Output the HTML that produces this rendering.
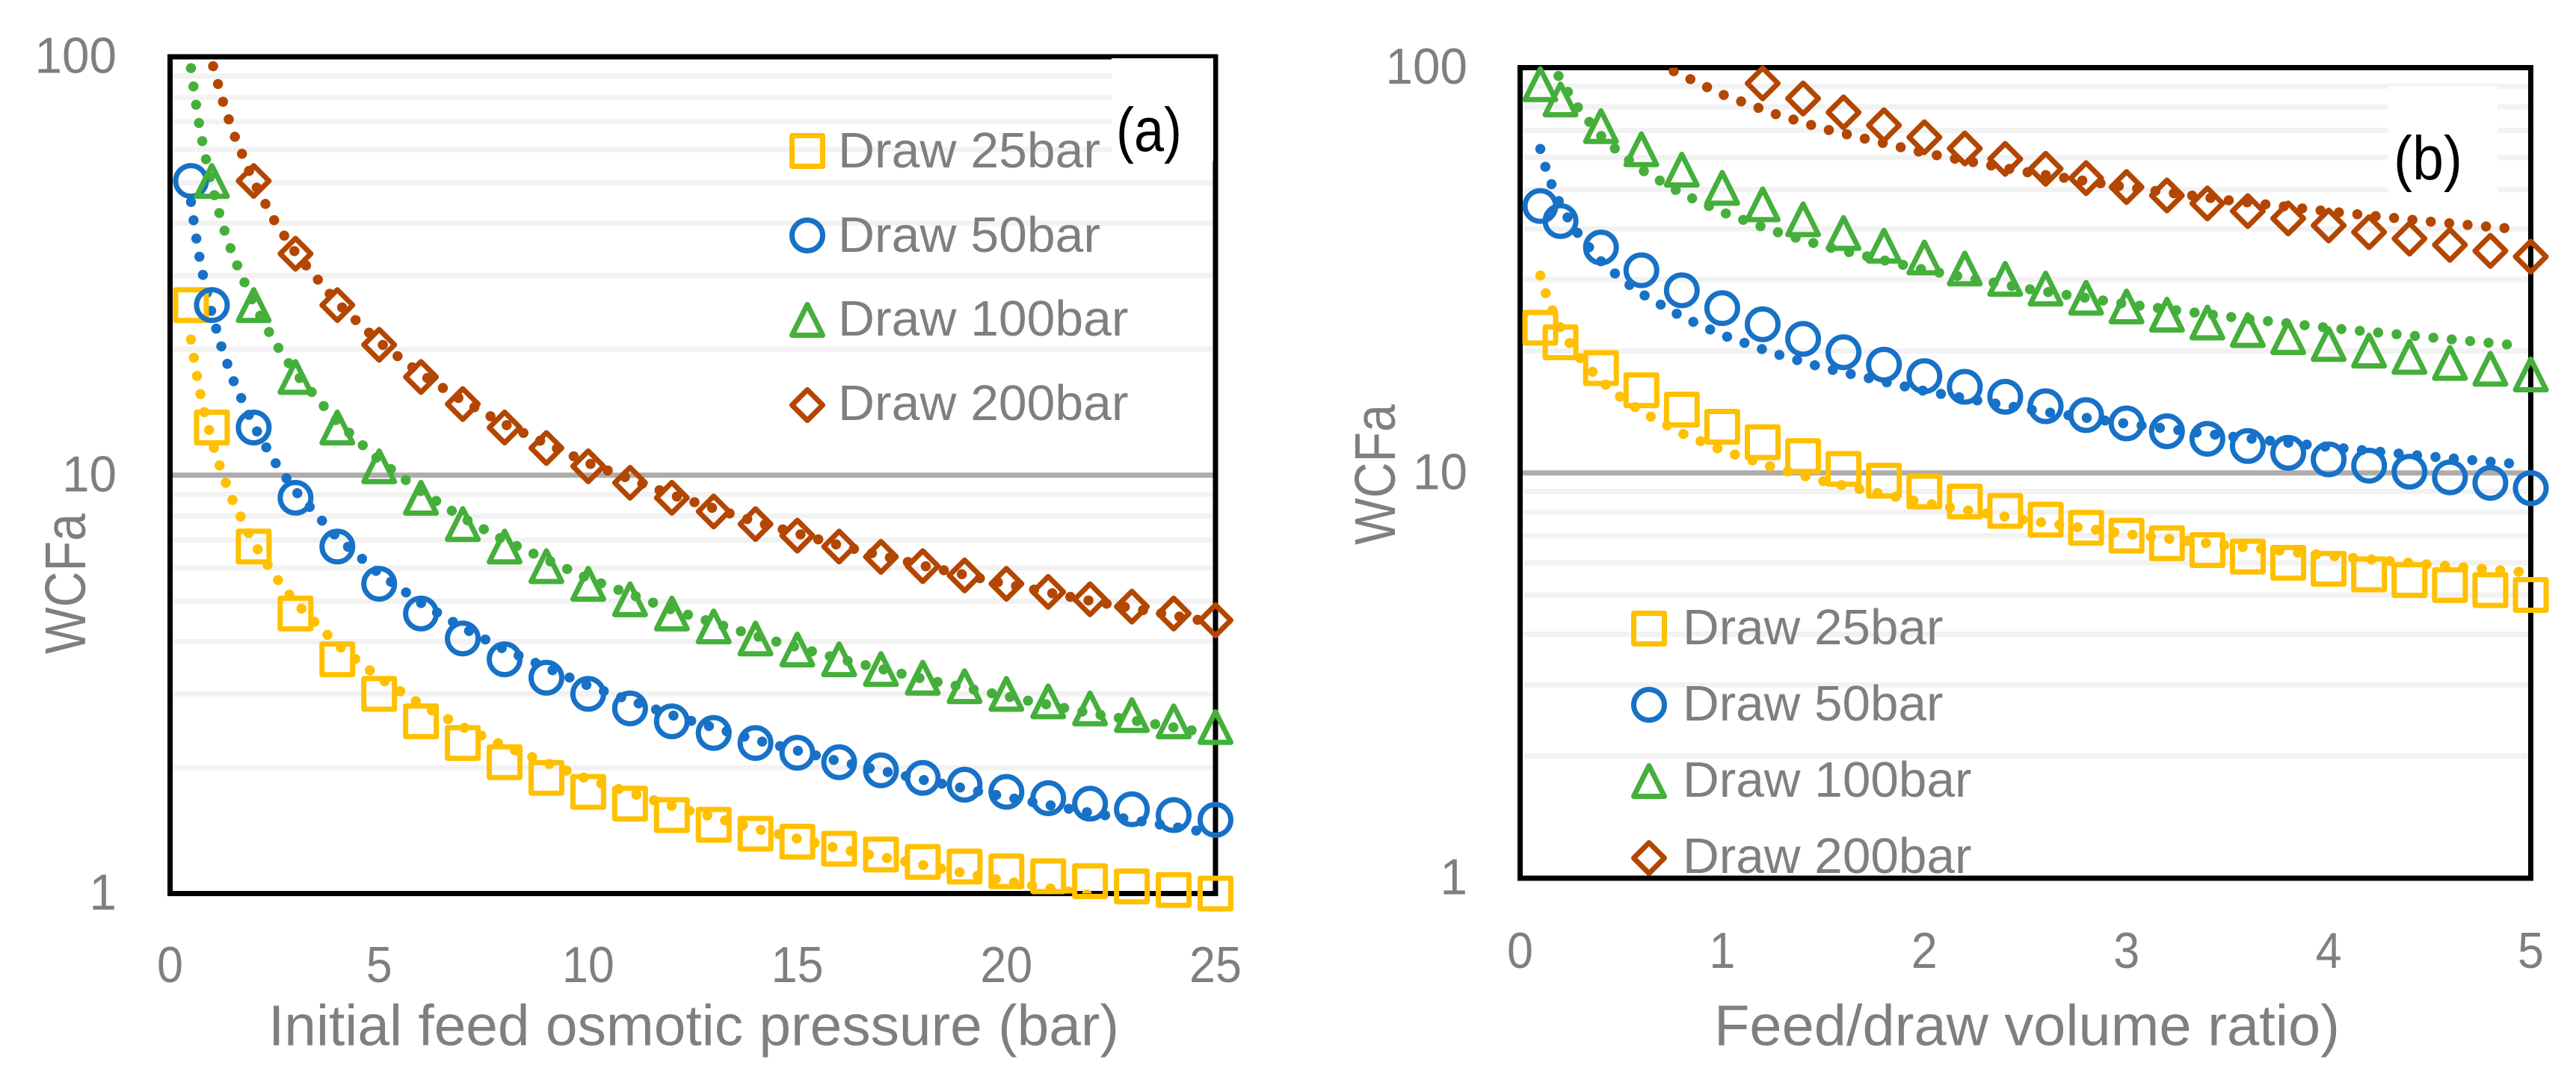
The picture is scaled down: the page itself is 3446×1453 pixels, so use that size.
<!DOCTYPE html>
<html lang="en">
<head>
<meta charset="utf-8">
<title>WCFa charts</title>
<style>
html,body{margin:0;padding:0;background:#fff;}
svg{display:block;}
text{font-family:"Liberation Sans",Arial,sans-serif;fill:#7f7f7f;}
.tick{font-size:68px;}
.leg{font-size:67px;}
.xt{font-size:77px;}
.yt{font-size:77px;}
.tag{font-size:83px;fill:#000;}
</style>
</head>
<body>
<svg id="fig" xmlns="http://www.w3.org/2000/svg" width="3446" height="1453" viewBox="0 0 3446 1453">
  <defs>
    <clipPath id="clipA"><rect x="227.5" y="76" width="1398.5" height="1119.5"/></clipPath>
    <clipPath id="clipB"><rect x="2033.5" y="90.5" width="1352" height="1084.5"/></clipPath>
  </defs>
  <rect x="0" y="0" width="3446" height="1453" fill="#fff"/>

  <g id="gridA"></g>
  <g id="gridB"></g>

  <rect x="227.5" y="76" width="1398.5" height="1119.5" fill="none" stroke="#000" stroke-width="7"/>
  <rect x="2033.5" y="90.5" width="1352" height="1084.5" fill="none" stroke="#000" stroke-width="7"/>

  <rect x="1487" y="78" width="136" height="137" fill="#fff"/>
  <rect x="3195" y="115" width="146" height="144" fill="#fff"/>

  <g id="labelsA"></g>
  <g id="labelsB"></g>

  <text class="xt" x="359" y="1398.5" textLength="1138" lengthAdjust="spacingAndGlyphs">Initial feed osmotic pressure (bar)</text>
  <text class="xt" x="2293" y="1398.5" textLength="837" lengthAdjust="spacingAndGlyphs">Feed/draw volume ratio)</text>
  <text class="yt" transform="translate(114 875) rotate(-90)" textLength="188" lengthAdjust="spacingAndGlyphs">WCFa</text>
  <text class="yt" transform="translate(1866 729) rotate(-90)" textLength="188" lengthAdjust="spacingAndGlyphs">WCFa</text>

  <g id="legendA">
    <g>
      <path transform="translate(1080 202)" d="M-20.5 -20.5H20.5V20.5H-20.5Z" fill="none" stroke="#ffc000" stroke-width="7" stroke-linejoin="round"/>
      <text class="leg" x="1121" y="224" textLength="351" lengthAdjust="spacingAndGlyphs">Draw 25bar</text>
    </g>
    <g>
      <path transform="translate(1080 315)" d="M-20.5 0A20.5 20.5 0 1 1 20.5 0A20.5 20.5 0 1 1 -20.5 0Z" fill="none" stroke="#1771c7" stroke-width="7"/>
      <text class="leg" x="1121" y="337" textLength="351" lengthAdjust="spacingAndGlyphs">Draw 50bar</text>
    </g>
    <g>
      <path transform="translate(1080 428)" d="M0 -20.5L20.5 20.5H-20.5Z" fill="none" stroke="#45af3b" stroke-width="7" stroke-linejoin="round"/>
      <text class="leg" x="1121" y="449" textLength="388.5" lengthAdjust="spacingAndGlyphs">Draw 100bar</text>
    </g>
    <g>
      <path transform="translate(1080 542)" d="M0 -20.5L20.5 0L0 20.5L-20.5 0Z" fill="none" stroke="#b34600" stroke-width="7" stroke-linejoin="round"/>
      <text class="leg" x="1121" y="562" textLength="388.5" lengthAdjust="spacingAndGlyphs">Draw 200bar</text>
    </g>
  </g>

  <g id="legendB">
    <g>
      <path transform="translate(2206 841)" d="M-20.5 -20.5H20.5V20.5H-20.5Z" fill="none" stroke="#ffc000" stroke-width="7" stroke-linejoin="round"/>
      <text class="leg" x="2251" y="862" textLength="348.5" lengthAdjust="spacingAndGlyphs">Draw 25bar</text>
    </g>
    <g>
      <path transform="translate(2206 943)" d="M-20.5 0A20.5 20.5 0 1 1 20.5 0A20.5 20.5 0 1 1 -20.5 0Z" fill="none" stroke="#1771c7" stroke-width="7"/>
      <text class="leg" x="2251" y="964" textLength="348.5" lengthAdjust="spacingAndGlyphs">Draw 50bar</text>
    </g>
    <g>
      <path transform="translate(2206 1045)" d="M0 -20.5L20.5 20.5H-20.5Z" fill="none" stroke="#45af3b" stroke-width="7" stroke-linejoin="round"/>
      <text class="leg" x="2251" y="1066" textLength="386.5" lengthAdjust="spacingAndGlyphs">Draw 100bar</text>
    </g>
    <g>
      <path transform="translate(2206 1148)" d="M0 -20.5L20.5 0L0 20.5L-20.5 0Z" fill="none" stroke="#b34600" stroke-width="7" stroke-linejoin="round"/>
      <text class="leg" x="2251" y="1168" textLength="386.5" lengthAdjust="spacingAndGlyphs">Draw 200bar</text>
    </g>
  </g>

  <g id="trendsA" clip-path="url(#clipA)"></g>
  <g id="trendsB" clip-path="url(#clipB)"></g>
  <g id="marksA"></g>
  <g id="marksB"></g>

  <text class="tag" x="1493" y="202" textLength="88" lengthAdjust="spacingAndGlyphs">(a)</text>
  <text class="tag" x="3202" y="240" textLength="92" lengthAdjust="spacingAndGlyphs">(b)</text>
</svg>

<script>
// ---------- Panel (a) data ----------
const pressureA = [0.5,1,2,3,4,5,6,7,8,9,10,11,12,13,14,15,16,17,18,19,20,21,22,23,24,25];
const draw25A = [25.5,13,6.75,4.67,3.63,3,2.58,2.29,2.06,1.89,1.75,1.64,1.54,1.46,1.39,1.33,1.28,1.24,1.19,1.16,1.13,1.10,1.07,1.04,1.02,1.00];
const draw50A = [50.5,25.5,13,8.83,6.75,5.5,4.67,4.07,3.63,3.28,3,2.77,2.58,2.42,2.29,2.17,2.06,1.97,1.89,1.82,1.75,1.69,1.64,1.59,1.54,1.5];
const draw100A = [null,50.5,25.5,17.17,13,10.5,8.83,7.64,6.75,6.06,5.5,5.05,4.67,4.35,4.07,3.83,3.63,3.44,3.28,3.13,3,2.88,2.77,2.67,2.58,2.5];
const draw200A = [null,null,50.5,33.83,25.5,20.5,17.17,14.79,13,11.61,10.5,9.59,8.83,8.19,7.64,7.17,6.75,6.38,6.06,5.76,5.5,5.26,5.05,4.85,4.67,4.5];

const trendXA = [0.5,0.6,0.7,0.8,1,1.25,1.5,2,2.5,3,4,5,6,7,8,10,12,14,16,18,20,22,24.8];
const trendXARed = [1.03,1.25,1.5,2,2.5,3,4,5,6,7,8,10,12,14,16,18,20,22,24.8];
const trend25A = [21.1,18.21,16.08,14.43,12.05,10.06,8.68,6.88,5.75,4.96,3.93,3.28,2.83,2.50,2.25,1.875,1.62,1.43,1.28,1.17,1.07,0.992,0.90];
const trend50A = [44.98,38.25,33.35,29.62,24.3,19.93,16.95,13.13,10.77,9.16,7.09,5.82,4.95,4.32,3.83,3.14,2.67,2.33,2.07,1.87,1.70,1.56,1.40];
const trend100A = [93.95,79.3,68.6,60.5,49.1,39.8,33.6,25.66,20.79,17.52,13.41,10.85,9.15,7.91,6.98,5.66,4.77,4.13,3.64,3.26,2.96,2.70,2.42];
const trend200A = [94.97,78.9,66.2,50.2,40.5,34.0,25.8,20.8,17.46,15.06,13.24,10.69,8.97,7.74,6.80,6.08,5.49,5.01,4.47];

// ---------- Panel (b) data ----------
const ratioB = [0.1,0.2,0.4,0.6,0.8,1,1.2,1.4,1.6,1.8,2,2.2,2.4,2.6,2.8,3,3.2,3.4,3.6,3.8,4,4.2,4.4,4.6,4.8,5];
const draw25B = [22.82,21,18.14,16,14.33,13,11.91,11,10.23,9.57,9,8.5,8.06,7.67,7.32,7,6.71,6.45,6.22,6,5.8,5.62,5.44,5.29,5.14,5];
const draw50B = [45.55,41.83,36,31.63,28.22,25.5,23.27,21.42,19.85,18.5,17.33,16.31,15.41,14.61,13.89,13.25,12.67,12.14,11.65,11.21,10.8,10.42,10.07,9.75,9.45,9.17];
const draw100B = [91,83.5,71.71,62.88,56,50.5,46,42.25,39.08,36.36,34,31.94,30.12,28.5,27.05,25.75,24.57,23.5,22.52,21.63,20.8,20.04,19.33,18.68,18.07,17.5];
const draw200B = [null,null,null,null,null,null,91.45,83.92,77.54,72.07,67.33,63.19,59.53,56.28,53.37,50.75,48.38,46.23,44.26,42.46,40.8,39.27,37.85,36.54,35.31,34.17];

const trendXB = [0.1,0.125,0.15,0.2,0.25,0.3,0.4,0.5,0.6,0.8,1,1.25,1.5,2,2.5,3,3.5,4,4.5,4.95];
const trendXBGreen = [0.19,0.25,0.3,0.4,0.5,0.6,0.8,1,1.25,1.5,2,2.5,3,3.5,4,4.5,4.95];
const trendXBRed = [0.76,1,1.25,1.5,2,2.5,3,3.5,4,4.5,4.92];
const trend25B = [30.7,27.9,25.8,22.8,20.7,19.1,16.9,15.34,14.18,12.52,11.37,10.33,9.54,8.43,7.65,7.07,6.62,6.25,5.94,5.70];
const trend50B = [63.0,56.9,52.3,45.8,41.4,38.1,33.3,30.1,27.7,24.3,21.9,19.77,18.18,15.93,14.38,13.23,12.32,11.59,10.98,10.5];
const trend100B = [95.4,84.9,77.9,67.9,61.1,56.0,48.9,44,39.6,36.3,31.7,28.5,26.1,24.3,22.8,21.6,20.6];
const trend200B = [98.0,85.9,77.2,70.7,61.6,55.3,50.7,47.1,44.2,41.7,40.0];

// ---------- Axis ticks ----------
const xTicksA = [0,5,10,15,20,25];
const xTicksB = [0,1,2,3,4,5];
const yTicks = [1,10,100];
const minorGrid = [2,3,4,5,6,7,8,9,20,30,40,50,60,70,80,90];
const majorGrid = [10];

// ---------- Axis functions ----------
const SVGNS = 'http://www.w3.org/2000/svg';
function xA(v){ return 227.5 + (v / 25) * 1398.5; }
function yA(v){ return 1195.5 - (Math.log10(v) / 2) * 1119.5; }
function xB(v){ return 2033.5 + (v / 5) * 1352; }
function yB(v){ return 1175 - (Math.log10(v) / 2) * 1084.5; }

const shapes = {
  square: 'M-20.5 -20.5H20.5V20.5H-20.5Z',
  circle: 'M-20.5 0A20.5 20.5 0 1 1 20.5 0A20.5 20.5 0 1 1 -20.5 0Z',
  triangle: 'M0 -20.5L20.5 20.5H-20.5Z',
  diamond: 'M0 -20.5L20.5 0L0 20.5L-20.5 0Z'
};
const YELLOW = '#ffc000', BLUE = '#1771c7', GREEN = '#45af3b', RED = '#b34600';

function drawGrid(groupId, xFrom, xTo, yFn){
  const g = document.getElementById(groupId);
  minorGrid.forEach(function(v){
    const el = document.createElementNS(SVGNS, 'line');
    el.setAttribute('x1', xFrom);
    el.setAttribute('x2', xTo);
    el.setAttribute('y1', yFn(v));
    el.setAttribute('y2', yFn(v));
    el.setAttribute('stroke', '#f2f2f2');
    el.setAttribute('stroke-width', 7);
    
    
    g.appendChild(el);
  });
  majorGrid.forEach(function(v){
    const el = document.createElementNS(SVGNS, 'line');
    el.setAttribute('x1', xFrom);
    el.setAttribute('x2', xTo);
    el.setAttribute('y1', yFn(v));
    el.setAttribute('y2', yFn(v));
    el.setAttribute('stroke', '#afabab');
    el.setAttribute('stroke-width', 7);
    
    
    g.appendChild(el);
  });
}

function drawLabels(groupId, xTicks, xFn, yFn, xBase, yRight){
  const g = document.getElementById(groupId);
  xTicks.forEach(function(t){
    const el = document.createElementNS(SVGNS, 'text');
    el.setAttribute('class', 'tick');
    el.setAttribute('x', xFn(t));
    el.setAttribute('y', xBase);
    el.setAttribute('text-anchor', 'middle');
    el.setAttribute('textLength', String(t).length * 35);
    el.setAttribute('lengthAdjust', 'spacingAndGlyphs');
    el.textContent = String(t);
    
    
    g.appendChild(el);
  });
  yTicks.forEach(function(t){
    const el = document.createElementNS(SVGNS, 'text');
    el.setAttribute('class', 'tick');
    el.setAttribute('x', yRight);
    el.setAttribute('y', yFn(t) + 21.5);
    el.setAttribute('text-anchor', 'end');
    el.setAttribute('textLength', String(t).length * 36.5);
    el.setAttribute('lengthAdjust', 'spacingAndGlyphs');
    el.textContent = String(t);
    
    
    g.appendChild(el);
  });
}

function drawTrend(groupId, xs, ys, color, xFn, yFn){
  const g = document.getElementById(groupId);
  const pts = xs.map(function(x, i){ return xFn(x).toFixed(2) + ',' + yFn(ys[i]).toFixed(2); });
  const el = document.createElementNS(SVGNS, 'polyline');
  el.setAttribute('points', pts.join(' '));
  el.setAttribute('fill', 'none');
  el.setAttribute('stroke', color);
  el.setAttribute('stroke-width', 13.5);
  el.setAttribute('stroke-linecap', 'round');
  el.setAttribute('stroke-linejoin', 'round');
  el.setAttribute('stroke-dasharray', '0.01 24.7');
  
  
  g.appendChild(el);
}

function drawMarkers(groupId, xs, ys, shape, color, xFn, yFn){
  const g = document.getElementById(groupId);
  xs.forEach(function(x, i){
    if (ys[i] === null) return;
    const el = document.createElementNS(SVGNS, 'path');
    el.setAttribute('d', shapes[shape]);
    el.setAttribute('transform', 'translate(' + xFn(x).toFixed(2) + ' ' + yFn(ys[i]).toFixed(2) + ')');
    el.setAttribute('fill', 'none');
    el.setAttribute('stroke', color);
    el.setAttribute('stroke-width', 7);
    el.setAttribute('stroke-linejoin', 'round');
    
    
    g.appendChild(el);
  });
}

drawGrid('gridA', 231, 1623, yA);
drawGrid('gridB', 2037, 3382, yB);
drawLabels('labelsA', xTicksA, xA, yA, 1314, 156);
drawLabels('labelsB', xTicksB, xB, yB, 1295, 1963);

drawTrend('trendsA', trendXA, trend25A, YELLOW, xA, yA);
drawTrend('trendsA', trendXA, trend50A, BLUE, xA, yA);
drawTrend('trendsA', trendXA, trend100A, GREEN, xA, yA);
drawTrend('trendsA', trendXARed, trend200A, RED, xA, yA);

drawTrend('trendsB', trendXB, trend25B, YELLOW, xB, yB);
drawTrend('trendsB', trendXB, trend50B, BLUE, xB, yB);
drawTrend('trendsB', trendXBGreen, trend100B, GREEN, xB, yB);
drawTrend('trendsB', trendXBRed, trend200B, RED, xB, yB);

drawMarkers('marksA', pressureA, draw25A, 'square', YELLOW, xA, yA);
drawMarkers('marksA', pressureA, draw50A, 'circle', BLUE, xA, yA);
drawMarkers('marksA', pressureA, draw100A, 'triangle', GREEN, xA, yA);
drawMarkers('marksA', pressureA, draw200A, 'diamond', RED, xA, yA);

drawMarkers('marksB', ratioB, draw25B, 'square', YELLOW, xB, yB);
drawMarkers('marksB', ratioB, draw50B, 'circle', BLUE, xB, yB);
drawMarkers('marksB', ratioB, draw100B, 'triangle', GREEN, xB, yB);
drawMarkers('marksB', ratioB, draw200B, 'diamond', RED, xB, yB);
</script>
</body>
</html>
